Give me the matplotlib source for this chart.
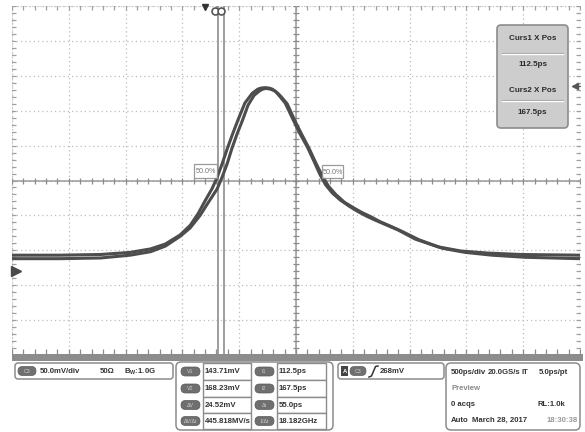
import matplotlib
matplotlib.use("Agg")
import matplotlib.pyplot as plt
from matplotlib.patches import FancyBboxPatch, Rectangle
import numpy as np

plt.rcParams['font.family'] = ['Liberation Sans', 'DejaVu Sans']

# ---------------- data (time in ps, voltage in mV) ----------------
trace_a_ps = [-1700, -1280, -920, -660, -480, -350, -220, -130, -60, 0, 60, 105, 150, 200,
              245, 290, 350, 415, 465, 495, 530, 560, 590, 620, 650, 705, 775, 835, 900, 960,
              1010, 1060, 1120, 1190, 1270, 1340, 1420, 1500, 1600, 1700, 1850, 2050, 2250,
              2490, 2780, 3300]
trace_a_mv = [23, 23, 24, 27, 32, 39, 52, 66, 83, 101, 118, 134, 154, 178,
              198, 217, 241, 255, 261, 262.5, 263, 262.5, 261, 257.5, 252, 241, 217, 197, 178, 157,
              139, 124, 112, 102, 93, 86, 79, 73, 66, 59, 46, 35, 29,
              26, 24, 23]
trace_b_ps = [-1700, -1280, -920, -660, -480, -350, -220, -132, -44, 18, 106, 150, 194, 238,
              282, 326, 378, 431, 484, 510, 537, 570, 607, 640, 669, 722, 792, 854, 915, 975,
              1030, 1085, 1150, 1225, 1305, 1382, 1460, 1540, 1640, 1734, 1884, 2086, 2289,
              2526, 2817, 3300]
trace_b_mv = [18, 18, 19, 23, 28, 36, 50, 62, 80, 96, 118, 135, 154, 177,
              197, 215, 238, 252, 259, 261, 262, 261, 259, 255, 250, 240, 215, 195, 176, 155,
              137, 122, 110, 99, 91, 84, 78, 71, 64, 57, 45, 33, 27,
              23, 20, 18]
cursor_ps = [112.5, 167.5]
trigger_ps = 0
time_per_div_ps = 500
volt_per_div_mv = 50
t_left_ps = -1700
v_bottom_mv = -120

chan_labels = ["50.0mV/div", "50\u03a9", r"$\mathregular{B_W}$:1.0G"]
meas_left_tags = ["V1", "V2", "\u0394V", "\u0394V/\u0394t"]
meas_left_vals = ["143.71mV", "168.23mV", "24.52mV", "445.818MV/s"]
meas_right_tags = ["t1", "t2", "\u0394t", "1/\u0394t"]
meas_right_vals = ["112.5ps", "167.5ps", "55.0ps", "18.182GHz"]
cursor_box_lines = ["Curs1 X Pos", "112.5ps", "Curs2 X Pos", "167.5ps"]
trigger_level = "268mV"

# ---------------- figure ----------------
W, H = 585, 432
fig = plt.figure(figsize=(W / 100, H / 100), dpi=100)
fig.patch.set_facecolor('white')

L, R, T, B = 12, 580, 6, 355
ax = fig.add_axes([L / W, (H - B) / H, (R - L) / W, (B - T) / H])
t_right = t_left_ps + 10 * time_per_div_ps
v_top = v_bottom_mv + 10 * volt_per_div_mv
ax.set_xlim(t_left_ps, t_right)
ax.set_ylim(v_bottom_mv, v_top)
ax.set_xticks([])
ax.set_yticks([])
for s in ax.spines.values():
    s.set_visible(False)

grid_c = '#bdbdbd'
xs_major = [t_left_ps + i * time_per_div_ps for i in range(11)]
ys_major = [v_bottom_mv + i * volt_per_div_mv for i in range(11)]
for x in xs_major:
    ax.axvline(x, color=grid_c, lw=0.9, ls=(0, (1, 2.4)), zorder=1)
for y in ys_major:
    ax.axhline(y, color=grid_c, lw=0.9, ls=(0, (1, 2.4)), zorder=1)

t_c = t_left_ps + 5 * time_per_div_ps
v_c = v_bottom_mv + 5 * volt_per_div_mv
ax.axhline(v_c, color='#9a9a9a', lw=1.1, zorder=2)
ax.axvline(t_c, color='#9a9a9a', lw=1.1, zorder=2)
xs_minor = np.arange(t_left_ps, t_right + 1, time_per_div_ps / 5)
ys_minor = np.arange(v_bottom_mv, v_top + 1, volt_per_div_mv / 5)
tick_c = '#8c8c8c'
ax.plot(xs_minor, [v_c] * len(xs_minor), ls='none', marker='|', ms=5, mew=0.9, color=tick_c, zorder=2)
ax.plot([t_c] * len(ys_minor), ys_minor, ls='none', marker='_', ms=5, mew=0.9, color=tick_c, zorder=2)
# edge ticks
ax.plot(xs_minor, [v_top] * len(xs_minor), ls='none', marker='|', ms=6, mew=0.9, color='#a0a0a0', zorder=2)
ax.plot(xs_minor, [v_bottom_mv] * len(xs_minor), ls='none', marker='|', ms=9, mew=0.9, color=tick_c, zorder=2)
ax.plot([t_left_ps] * len(ys_minor), ys_minor, ls='none', marker='_', ms=6, mew=0.9, color='#a0a0a0', zorder=2)
ax.plot([t_right] * len(ys_minor), ys_minor, ls='none', marker='_', ms=6, mew=0.9, color='#a0a0a0', zorder=2)
ax.axvline(t_left_ps, color='#c4c4c4', lw=0.8, ls=(0, (1, 1.5)), zorder=1)
ax.axvline(t_right, color='#c4c4c4', lw=0.8, ls=(0, (1, 1.5)), zorder=1)
ax.axhline(v_top, color='#c4c4c4', lw=0.8, ls=(0, (1, 1.5)), zorder=1)

# cursors
for c in cursor_ps:
    ax.axvline(c, color='#8e8e8e', lw=1.2, zorder=3)

# waveform
wave_c = '#4d4d4d'
ax.plot(trace_a_ps, trace_a_mv, color=wave_c, lw=2.2, solid_joinstyle='round',
        solid_capstyle='round', zorder=5)
ax.plot(trace_b_ps, trace_b_mv, color=wave_c, lw=2.2, solid_joinstyle='round',
        solid_capstyle='round', zorder=5)

# ---------------- overlay in pixel coordinates ----------------
ov = fig.add_axes([0, 0, 1, 1], zorder=10)
ov.set_xlim(0, W)
ov.set_ylim(H, 0)
ov.axis('off')
ov.patch.set_alpha(0)

def px_t(t):
    return L + (t - t_left_ps) / (t_right - t_left_ps) * (R - L)

def px_v(v):
    return B - (v - v_bottom_mv) / (v_top - v_bottom_mv) * (B - T)

txt_c = '#333333'
fs = 5.6

# top trigger marker and cursor circles
ov.plot([px_t(trigger_ps)], [7], marker='v', ms=5, color='#333333', ls='none')
for c in cursor_ps:
    ov.plot([px_t(c) - 3], [11], marker='o', ms=5, mfc='white', mec='#555555', mew=1.2, ls='none')
# left channel marker at 0 mV
ov.plot([16], [px_v(0)], marker='>', ms=7, color='#4a4a4a', ls='none')
# right reference marker
ov.plot([575], [86], marker='<', ms=4, color='#555555', ls='none')
ov.plot([575, 580], [86, 86], color='#555555', lw=0.8)

# 50% labels
for (x0, x1, y0, y1) in [(194, 217, 164, 178), (322, 343, 165, 178)]:
    ov.add_patch(Rectangle((x0, y0), x1 - x0, y1 - y0, fc='white', ec='#8a8a8a', lw=0.9, zorder=3, alpha=0.85))
    ov.text((x0 + x1) / 2, (y0 + y1) / 2 + 0.5, "50.0%", fontsize=5.2, color='#777777',
            ha='center', va='center', zorder=4)

# cursor readout box
ov.add_patch(FancyBboxPatch((497, 25), 71, 103, boxstyle="round,pad=0,rounding_size=4",
                            fc='#cdcdcd', ec='#8c8c8c', lw=1.2, zorder=3))
for yy in (52.5, 99.5):
    ov.plot([502, 563], [yy, yy], color='#9a9a9a', lw=0.8, zorder=4)
    ov.plot([502, 563], [yy + 1.3, yy + 1.3], color='white', lw=1.0, zorder=4)
for yy, s in zip([39, 65, 91, 113], cursor_box_lines):
    ov.text(532.5, yy, s, fontsize=5.8, fontweight='bold', color='#2a2a2a', ha='center', va='center', zorder=5)

# bottom bar
ov.add_patch(Rectangle((L, 354), R - L + 3, 6.5, fc='#8c8c8c', ec='none', zorder=2))

def box(x0, y0, x1, y1, fc='white', ec='#8c8c8c', lw=1.1, r=3):
    ov.add_patch(FancyBboxPatch((x0, y0), x1 - x0, y1 - y0, boxstyle=f"round,pad=0,rounding_size={r}",
                                fc=fc, ec=ec, lw=lw, zorder=3))

def pill(x0, yc, w, label, h=9):
    ov.add_patch(FancyBboxPatch((x0, yc - h / 2), w, h, boxstyle=f"round,pad=0,rounding_size={h / 2}",
                                fc='#6f6f6f', ec='#5a5a5a', lw=0.5, zorder=4))
    ov.text(x0 + w / 2, yc + 0.3, label, fontsize=3.8, color='#cfcfcf', ha='center', va='center', zorder=5)

# channel box
box(15, 363, 173, 379)
pill(18, 371, 18, "C3")
ov.text(40, 371.5, chan_labels[0], fontsize=fs, fontweight='bold', color=txt_c, va='center', zorder=5)
ov.text(100, 371.5, chan_labels[1], fontsize=fs, fontweight='bold', color=txt_c, va='center', zorder=5)
ov.text(124, 371.5, chan_labels[2], fontsize=fs, fontweight='bold', color=txt_c, va='center', zorder=5)

# measurement box
box(176, 362, 333, 430, r=5)
row_y = [371.5, 388.5, 405, 421]
for i in range(4):
    yc = row_y[i]
    pill(181, yc, 19, meas_left_tags[i])
    ov.add_patch(Rectangle((203, yc - 8.3), 48, 16.6, fc='white', ec='#8c8c8c', lw=1.0, zorder=3.5))
    ov.text(205, yc + 0.3, meas_left_vals[i], fontsize=fs, fontweight='bold', color=txt_c, va='center', zorder=5)
    pill(255, yc, 19, meas_right_tags[i])
    ov.add_patch(Rectangle((277, yc - 8.3), 49, 16.6, fc='white', ec='#8c8c8c', lw=1.0, zorder=3.5))
    ov.text(279, yc + 0.3, meas_right_vals[i], fontsize=fs, fontweight='bold', color=txt_c, va='center', zorder=5)

# trigger box
box(338, 363, 444, 379)
ov.add_patch(Rectangle((341, 366), 7, 10, fc='#444444', ec='none', zorder=4))
ov.text(344.5, 371.3, "A", fontsize=4.2, color='white', ha='center', va='center', fontweight='bold', zorder=5)
pill(350, 371, 16, "C3")
ov.plot([369, 371.5, 375.5, 378], [377, 376, 366.5, 366], color='#333333', lw=1.1, zorder=5)
ov.text(380, 371.5, trigger_level, fontsize=fs, fontweight='bold', color=txt_c, va='center', zorder=5)

# horizontal / acquisition box
box(446, 363, 580, 430, r=5)
ov.text(451, 372, "500ps/div", fontsize=fs, fontweight='bold', color=txt_c, va='center', zorder=5)
ov.text(488, 372, "20.0GS/s", fontsize=fs, fontweight='bold', color=txt_c, va='center', zorder=5)
ov.text(522, 372, "IT", fontsize=fs, fontweight='bold', color=txt_c, va='center', zorder=5)
ov.text(539, 372, "5.0ps/pt", fontsize=fs, fontweight='bold', color=txt_c, va='center', zorder=5)
ov.text(451, 388, "Preview", fontsize=fs, fontweight='bold', color='#8a8a8a', va='center', zorder=5)
ov.text(451, 404, "0 acqs", fontsize=fs, fontweight='bold', color=txt_c, va='center', zorder=5)
ov.text(538, 404, "RL:1.0k", fontsize=fs, fontweight='bold', color=txt_c, va='center', zorder=5)
ov.text(451, 420, "Auto", fontsize=fs, fontweight='bold', color=txt_c, va='center', zorder=5)
ov.text(472, 420, "March 28, 2017", fontsize=fs, fontweight='bold', color=txt_c, va='center', zorder=5)
ov.text(547, 420, "18:30:38", fontsize=fs, fontweight='bold', color='#9a9a9a', va='center', zorder=5)

fig.savefig("out.png", dpi=100, facecolor='white')
